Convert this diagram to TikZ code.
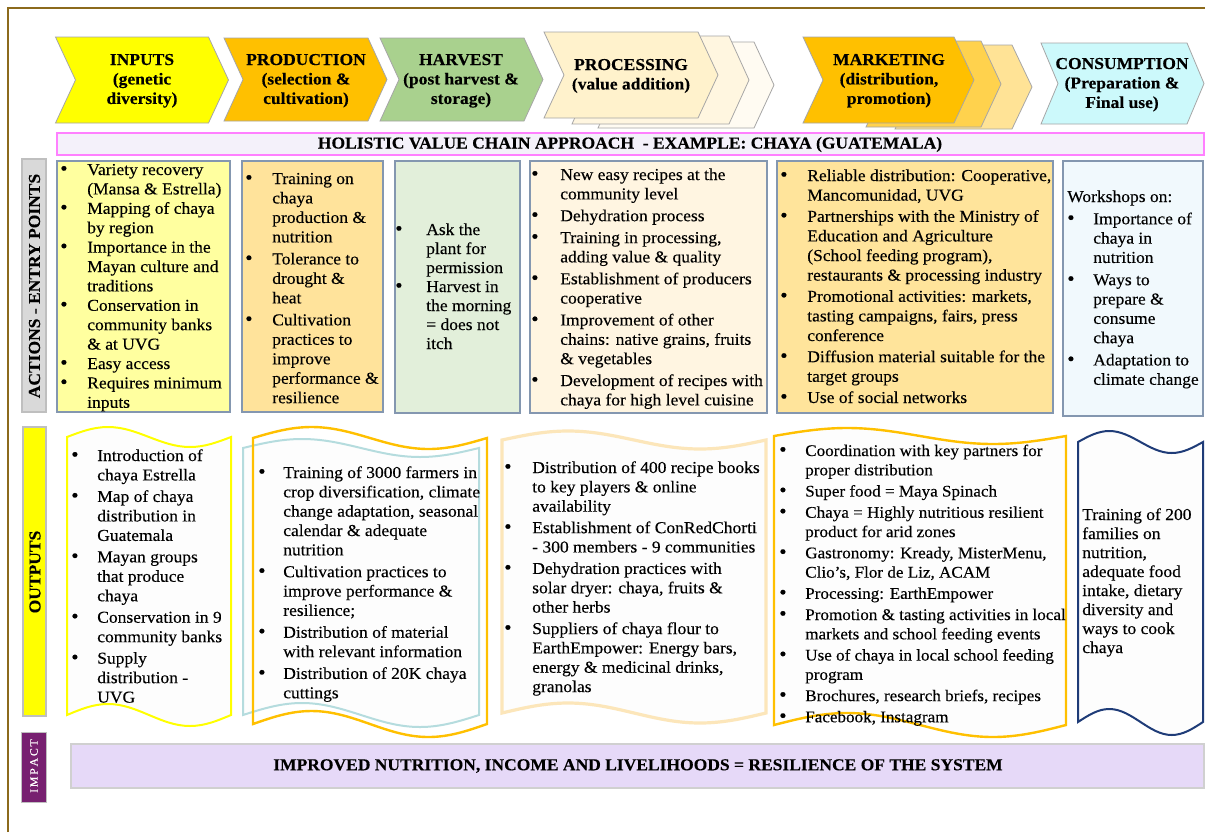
\documentclass[tikz,border=0pt]{standalone}
\usepackage{fontspec}
\setmainfont[FakeStretch=1.05, FakeBold=0.25]{Liberation Serif}
\definecolor{frame}{HTML}{8C6A1C}
\definecolor{chevline}{HTML}{A6A6A6}
\definecolor{cInputs}{HTML}{FFFF00}
\definecolor{cProd}{HTML}{FFC000}
\definecolor{cHarv}{HTML}{A9D18E}
\definecolor{cProcA}{HTML}{FFF2CC}
\definecolor{cProcB}{HTML}{FFF6E0}
\definecolor{cProcC}{HTML}{FFFBF2}
\definecolor{cMarkA}{HTML}{FFC000}
\definecolor{cMarkB}{HTML}{FFD24D}
\definecolor{cMarkC}{HTML}{FFE396}
\definecolor{cCons}{HTML}{CCF9FB}
\definecolor{holFill}{HTML}{F4F1FA}
\definecolor{holLine}{HTML}{FF80FF}
\definecolor{aLine}{HTML}{8497B0}
\definecolor{aOne}{HTML}{FFFF9F}
\definecolor{aTwo}{HTML}{FFE39B}
\definecolor{aThree}{HTML}{E2EFDA}
\definecolor{aFour}{HTML}{FFF5E1}
\definecolor{aFive}{HTML}{FFE49B}
\definecolor{aSix}{HTML}{F1F9FD}
\definecolor{sideGray}{HTML}{D9D9D9}
\definecolor{sideLine}{HTML}{BFBFBF}
\definecolor{impactDark}{HTML}{772070}
\definecolor{impactFill}{HTML}{E6D9F8}
\definecolor{impactLine}{HTML}{D0D0D0}
\definecolor{oYellow}{HTML}{FFFF00}
\definecolor{oTeal}{HTML}{B5DCDE}
\definecolor{oOrange}{HTML}{FFC000}
\definecolor{oBeige}{HTML}{FCE6BA}
\definecolor{oGold}{HTML}{FFC000}
\definecolor{oNavy}{HTML}{1F3C78}
\definecolor{oFill}{HTML}{FDFDFD}

% chevron: L T R B depth fill
\newcommand\chev[6]{\filldraw[chevron, fill=#6] (#1,#2) -- ({#3-#5},#2) -- (#3,{(#2+#4)/2}) -- ({#3-#5},#4) -- (#1,#4) -- ({#1+#5},{(#2+#4)/2}) -- cycle;}
% punched-tape shape: L R Tmid Tamp Bmid Bamp style
\newcommand\wavebox[7]{\draw[#7] (#1,#3) sin ({#1+(#2-#1)/4},{#3-#4}) cos ({(#1+#2)/2},#3) sin ({#1+3*(#2-#1)/4},{#3+#4}) cos (#2,#3) -- (#2,#5) sin ({#1+3*(#2-#1)/4},{#5+#6}) cos ({(#1+#2)/2},#5) sin ({#1+(#2-#1)/4},{#5-#6}) cos (#1,#5) -- cycle;}
\newcommand\blist[2]{\begin{tabular}[t]{@{}p{#1}@{}l@{}}#2\end{tabular}}
\newcommand\bb{{\fontsize{15}{15}\selectfont\textbullet}}
\newcommand\ctab[1]{\begin{tabular}[t]{@{}c@{}}#1\end{tabular}}
\newcommand\ltab[1]{\begin{tabular}[t]{@{}l@{}}#1\end{tabular}}

\tikzset{
  chevron/.style={draw=chevline, line width=0.6pt, line join=miter},
  chevtxt/.style={inner sep=0pt, anchor=base, font=\fontsize{12.5}{14.6}\selectfont\bfseries},
  abox/.style={draw=aLine, line width=0.9pt},
  body/.style={inner sep=0pt, anchor=base west, font=\fontsize{12.5}{14.55}\selectfont},
  sidelbl/.style={inner sep=0pt, rotate=90, font=\fontsize{12.5}{14}\selectfont\bfseries},
  wavy/.style={fill=oFill, line width=1.5pt},
}

\begin{document}
\begin{tikzpicture}[x=0.75pt,y=-0.75pt]
\useasboundingbox (0,0) rectangle (1205,832);
\fill[white] (0,0) rectangle (1205,832);
% frame
\draw[frame, line width=1.5pt] (8,832) -- (8,8) -- (1205,8);

% chevrons
\chev{55.5}{37}{228.5}{123}{20}{cInputs}
\chev{224}{38}{387}{121}{19}{cProd}
\chev{380}{38}{543}{121}{19}{cHarv}
\chev{598}{42}{774}{128}{20}{cProcC}
\chev{572}{36}{749}{124}{20}{cProcB}
\chev{544}{32}{718}{118}{20}{cProcA}
\chev{895}{45}{1032}{129}{20}{cMarkC}
\chev{866}{41}{1001}{127}{20}{cMarkB}
\chev{803}{37}{974}{123}{20}{cMarkA}
\chev{1041}{43}{1204}{124}{17}{cCons}

\node[chevtxt] (inputs) at (142,65) {\ctab{INPUTS\\(genetic\\diversity)}};
\node[chevtxt] (production) at (306,65) {\ctab{PRODUCTION\\(selection \&\\cultivation)}};
\node[chevtxt] (harvest) at (461,65) {\ctab{HARVEST\\(post harvest \&\\storage)}};
\node[chevtxt] (processing) at (631,70) {\ctab{PROCESSING\\(value addition)}};
\node[chevtxt] (marketing) at (889,65) {\ctab{MARKETING\\(distribution,\\promotion)}};
\node[chevtxt] (consumption) at (1122,69) {\ctab{CONSUMPTION\\(Preparation \&\\Final use)}};

% holistic bar
\filldraw[fill=holFill, draw=holLine, line width=0.9pt] (57,133) rectangle (1204,155);
\node[inner sep=0pt, font=\fontsize{12.5}{14}\selectfont\bfseries] (holistic) at (630,144.5) {HOLISTIC VALUE CHAIN APPROACH\ \ - EXAMPLE: CHAYA (GUATEMALA)};

% side labels
\filldraw[fill=sideGray, draw=sideLine, line width=0.8pt] (22,159) rectangle (46,412);
\node[sidelbl] (actionslbl) at (34.5,286) {ACTIONS - ENTRY POINTS};
\filldraw[fill=oYellow, draw=sideLine, line width=0.8pt] (23,427) rectangle (46,716);
\node[sidelbl] (outputslbl) at (35,572) {OUTPUTS};
\filldraw[fill=impactDark, draw=sideLine, line width=0.6pt] (21,732) rectangle (46,802);
\node[sidelbl, text=white, font=\fontsize{8.5}{10}\selectfont] (impactlbl) at (34,766) {I\kern1.3pt M\kern1.3pt P\kern1.3pt A\kern1.3pt C\kern1.3pt T};

% action boxes
\filldraw[abox, fill=aOne] (57,161) rectangle (230,412);
\filldraw[abox, fill=aTwo] (242,161) rectangle (383,412);
\filldraw[abox, fill=aThree] (395,161) rectangle (520,413);
\filldraw[abox, fill=aFour] (530,161) rectangle (767,413);
\filldraw[abox, fill=aFive] (777,161) rectangle (1053,413);
\filldraw[abox, fill=aSix] (1063,161) rectangle (1203,416);

\node[body] (actInputs) at (60,175) {\blist{20.25pt}{%
\bb & Variety recovery\\ & (Mansa \& Estrella)\\
\bb & Mapping of chaya\\ & by region\\
\bb & Importance in the\\ & Mayan culture and\\ & traditions\\
\bb & Conservation in\\ & community banks\\ & \& at UVG\\
\bb & Easy access\\
\bb & Requires minimum\\ & inputs}};

\node[body, font=\fontsize{12.5}{14.6}\selectfont] (actProd) at (245,184) {\blist{20.25pt}{%
\bb & Training on\\ & chaya\\ & production \&\\ & nutrition\\[1.9pt]
\bb & Tolerance to\\ & drought \&\\ & heat\\[1.9pt]
\bb & Cultivation\\ & practices to\\ & improve\\ & performance \&\\ & resilience}};

\node[body, font=\fontsize{12.5}{14.25}\selectfont] (actHarv) at (395,235) {\blist{23.25pt}{%
\bb & Ask the\\ & plant for\\ & permission\\
\bb & Harvest in\\ & the morning\\ & = does not\\ & itch}};

\node[body, font=\fontsize{12.5}{14.5}\selectfont] (actProc) at (531,180) {\blist{21.75pt}{%
\bb & New easy recipes at the\\ & community level\\[1.9pt]
\bb & Dehydration process\\[1.9pt]
\bb & Training in processing,\\ & adding value \& quality\\[1.9pt]
\bb & Establishment of producers\\ & cooperative\\[1.9pt]
\bb & Improvement of other\\ & chains: native grains, fruits\\ & \& vegetables\\[1.9pt]
\bb & Development of recipes with\\ & chaya for high level cuisine}};

\node[body, font=\fontsize{12.5}{14.7}\selectfont] (actMark) at (780,181) {\blist{20.25pt}{%
\bb & Reliable distribution: Cooperative,\\ & Mancomunidad, UVG\\[1.2pt]
\bb & Partnerships with the Ministry of\\ & Education and Agriculture\\ & (School feeding program),\\ & restaurants \& processing industry\\[1.2pt]
\bb & Promotional activities: markets,\\ & tasting campaigns, fairs, press\\ & conference\\[1.2pt]
\bb & Diffusion material suitable for the\\ & target groups\\[1.2pt]
\bb & Use of social networks}};

\node[body, font=\fontsize{12.5}{14.5}\selectfont] (actCons) at (1067,202) {\blist{19.5pt}{%
\multicolumn{2}{@{}l@{}}{Workshops on:}\\[2.2pt]
\bb & Importance of\\ & chaya in\\ & nutrition\\[2.2pt]
\bb & Ways to\\ & prepare \&\\ & consume\\ & chaya\\[2.2pt]
\bb & Adaptation to\\ & climate change}};

% output shapes
\wavebox{67}{231}{437}{10}{715}{11}{wavy, draw=oYellow}
\wavebox{243}{479}{448}{9}{715}{12}{wavy, draw=oTeal}
\wavebox{253}{487}{438}{11}{724}{13}{draw=oOrange, line width=1.8pt}
\wavebox{502}{766}{440}{9}{713}{10}{wavy, draw=oBeige, line width=2.4pt}
\wavebox{774}{1066}{436}{8}{725}{12}{wavy, draw=oGold, line width=1.8pt}
\wavebox{1078}{1203}{442}{11}{722}{13}{wavy, draw=oNavy}

\node[body, font=\fontsize{12.5}{14.6}\selectfont] (outInputs) at (71,461) {\blist{19.5pt}{%
\bb & Introduction of\\ & chaya Estrella\\[1.5pt]
\bb & Map of chaya\\ & distribution in\\ & Guatemala\\[1.5pt]
\bb & Mayan groups\\ & that produce\\ & chaya\\[1.5pt]
\bb & Conservation in 9\\ & community banks\\[1.5pt]
\bb & Supply\\ & distribution -\\ & UVG}};

\node[body, font=\fontsize{12.5}{14.5}\selectfont] (outProd) at (258,478) {\blist{18.75pt}{%
\bb & Training of 3000 farmers in\\ & crop diversification, climate\\ & change adaptation, seasonal\\ & calendar \& adequate\\ & nutrition\\[1.9pt]
\bb & Cultivation practices to\\ & improve performance \&\\ & resilience;\\[1.9pt]
\bb & Distribution of material\\ & with relevant information\\[1.9pt]
\bb & Distribution of 20K chaya\\ & cuttings}};

\node[body, font=\fontsize{12.5}{14.5}\selectfont] (outProc) at (504,473) {\blist{21pt}{%
\bb & Distribution of 400 recipe books\\ & to key players \& online\\ & availability\\[1.6pt]
\bb & Establishment of ConRedChorti\\ & - 300 members - 9 communities\\[1.6pt]
\bb & Dehydration practices with\\ & solar dryer: chaya, fruits \&\\ & other herbs\\[1.6pt]
\bb & Suppliers of chaya flour to\\ & EarthEmpower: Energy bars,\\ & energy \& medicinal drinks,\\ & granolas}};

\node[body, font=\fontsize{12.2}{14.5}\selectfont] (outMark) at (779,456) {\blist{19.5pt}{%
\bb & Coordination with key partners for\\ & proper distribution\\[1.4pt]
\bb & Super food = Maya Spinach\\[1.4pt]
\bb & Chaya = Highly nutritious resilient\\ & product for arid zones\\[1.4pt]
\bb & Gastronomy: Kready, MisterMenu,\\ & Clio's, Flor de Liz, ACAM\\[1.4pt]
\bb & Processing: EarthEmpower\\[1.4pt]
\bb & Promotion \& tasting activities in local\\ & markets and school feeding events\\[1.4pt]
\bb & Use of chaya in local school feeding\\ & program\\[1.4pt]
\bb & Brochures, research briefs, recipes\\[1.4pt]
\bb & Facebook, Instagram}};

\node[body, font=\fontsize{12.5}{14.25}\selectfont] (outCons) at (1082,520) {\ltab{Training of 200\\families on\\nutrition,\\adequate food\\intake, dietary\\diversity and\\ways to cook\\chaya}};

% impact bar
\filldraw[fill=impactFill, draw=impactLine, line width=0.8pt] (71,744) rectangle (1204,788);
\node[inner sep=0pt, font=\fontsize{12.5}{14}\selectfont\bfseries] (impact) at (638,766) {IMPROVED NUTRITION, INCOME AND LIVELIHOODS = RESILIENCE OF THE SYSTEM};
\end{tikzpicture}
\end{document}
